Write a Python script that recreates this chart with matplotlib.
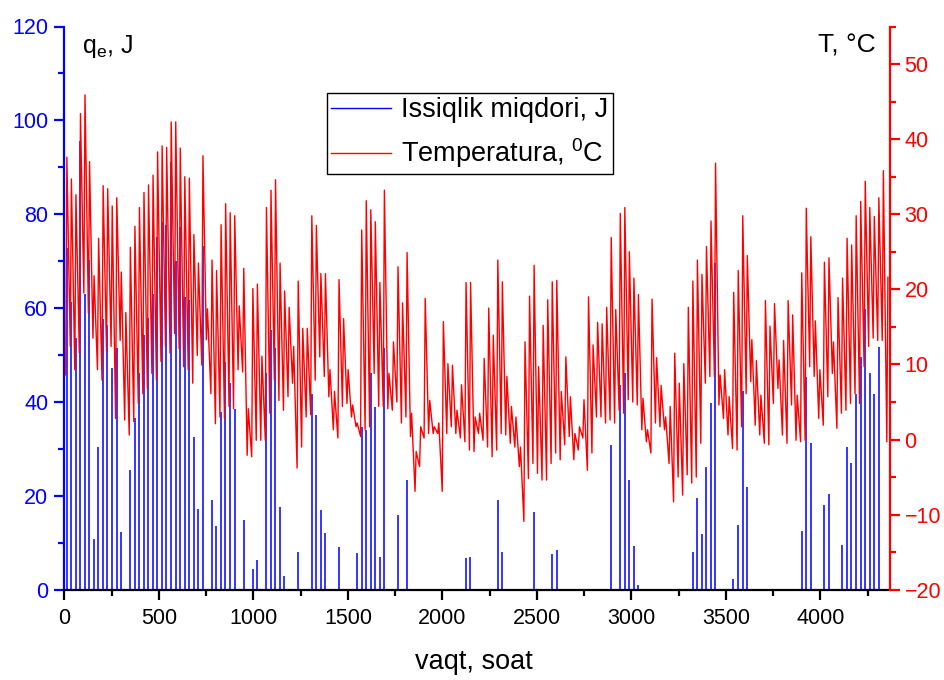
import matplotlib
matplotlib.use("Agg")
import matplotlib.pyplot as plt
from matplotlib.ticker import MultipleLocator
from matplotlib.lines import Line2D
from matplotlib import font_manager

plt.rcParams['font.family'] = ['Liberation Sans', 'DejaVu Sans']
plt.rcParams['mathtext.default'] = 'regular'

try:
    font_manager.findfont('Liberation Sans Narrow', fallback_to_default=False)
    TICKFAM = ['Liberation Sans Narrow', 'Liberation Sans']
    TICKSIZE = 17.5
except Exception:
    TICKFAM = ['Liberation Sans', 'DejaVu Sans']
    TICKSIZE = 15.5

# Daily maximum temperature (deg C), days 0..181
t_max = [37.6, 34.7, 32.6, 43.4, 45.9, 37.0, 21.8, 26.8, 33.8, 33.4,
         31.1, 32.2, 22.3, 16.9, 25.6, 28.4, 30.9, 32.9, 33.9, 35.2,
         38.3, 39.1, 38.9, 42.3, 42.3, 38.8, 35.0, 34.8, 27.3, 23.5,
         37.8, 17.4, 23.9, 22.5, 28.6, 31.4, 30.2, 29.8, 17.8, 22.8,
         4.1, 20.1, 20.7, 11.1, 30.9, 33.2, 34.6, 23.5, 19.8, 17.6,
         12.4, 21.1, 14.8, 14.8, 29.8, 28.5, 22.1, 22.1, 9.3, 6.4,
         21.3, 16.1, 9.3, 4.6, 2.2, 27.9, 31.8, 30.6, 29.0, 20.9,
         33.2, 8.8, 13.0, 23.0, 18.2, 24.9, 3.5, -1.6, 1.7, 18.8,
         5.2, 1.7, 2.2, 15.7, 10.1, 9.9, 3.9, 7.3, 20.9, 20.9,
         3.0, 3.5, 10.8, 17.5, 13.9, 23.9, 21.0, 8.4, 4.4, 3.0,
         -1.0, 13.0, 19.1, 23.2, 9.7, 15.2, 18.6, 21.0, 21.2, 6.4,
         11.0, 5.7, 0.8, 1.7, 5.3, 19.0, 12.6, 15.6, 15.4, 17.6,
         26.9, 17.3, 30.1, 30.9, 25.0, 21.5, 19.3, 5.5, 1.3, 18.7,
         10.9, 7.2, 3.0, 4.4, 11.5, 7.5, 10.1, 17.6, 21.1, 23.9,
         22.0, 25.7, 29.1, 36.8, 8.6, 9.3, 5.7, 19.6, 22.5, 29.8,
         24.5, 13.3, 10.5, 5.9, 18.5, 15.1, 18.1, 10.6, 13.2, 18.5,
         16.6, 5.9, 22.2, 30.8, 27.0, 15.8, 9.3, 23.6, 24.2, 13.0,
         18.9, 21.5, 26.8, 25.9, 29.8, 31.7, 34.4, 30.9, 29.7, 32.2,
         35.8, 21.6]

# Daily minimum temperature (deg C), days 0..181
t_min = [8.6, 12.4, 9.3, 11.5, 19.5, 16.8, 13.5, 9.3, 7.9, 11.7,
         12.4, 2.8, 13.2, 2.6, 0.6, 2.4, 4.8, 6.1, 6.8, 8.8,
         7.9, 10.4, 12.4, 11.5, 14.1, 12.1, 9.7, 9.3, 7.5, 11.2,
         9.9, 13.3, 6.1, 2.1, 3.0, 2.8, 4.4, 4.1, 9.3, 9.0,
         -2.1, -2.3, -0.1, -0.1, -0.1, 3.5, 7.9, 5.2, 3.9, 5.7,
         7.5, -3.8, -1.0, 3.0, 3.3, 7.9, 11.0, 8.4, 5.7, 1.3,
         0.2, 4.4, 4.8, 3.0, 1.7, 0.4, 1.3, 1.7, 8.8, 4.4,
         4.4, 4.1, 3.9, 5.0, 2.2, 3.0, 0.4, -6.9, -3.6, 0.2,
         0.8, 0.8, 0.8, -6.9, 0.8, 1.7, 0.8, 0.2, -0.3, -1.4,
         -1.6, 0.8, -0.1, -1.0, -2.3, -1.4, 0.8, 0.6, -0.5, -1.0,
         -3.6, -10.9, -5.2, -3.2, -4.5, -5.4, -5.4, -3.2, -1.8, -2.7,
         -0.7, 0.4, -2.7, -1.4, 0.2, -4.1, -1.8, 3.0, 3.0, 2.2,
         2.6, 2.2, 3.9, 3.5, 5.3, 5.0, 4.6, 1.3, -0.3, -1.8,
         2.2, 1.7, 1.3, -3.2, -8.3, -5.0, -7.4, -4.7, -5.8, -5.0,
         -0.5, 7.5, 8.4, 8.4, 4.6, 2.8, 0.6, -1.2, -1.4, 1.7,
         6.1, 7.7, 1.9, 0.6, -0.5, -0.7, 4.8, 6.8, 0.6, -0.5,
         4.6, -0.1, -0.3, -0.1, 9.7, 8.4, 2.8, 1.9, 5.7, 8.8,
         1.5, 3.5, 3.9, 4.8, 6.1, 4.8, 9.7, 12.4, 13.5, 13.2,
         13.2, -0.3]

# Daily heat quantity (J), days 0..181
heat = [72.7, 61.4, 53.6, 95.5, 63.1, 70.2, 10.7, 30.5, 57.7, 56.3,
        47.2, 51.4, 12.2, 0, 25.6, 36.5, 46.1, 54.3, 57.8, 63.1,
        75.2, 78.4, 77.7, 91.2, 70.0, 77.3, 62.4, 61.7, 32.6, 17.3,
        73.3, 0, 19.1, 13.6, 37.9, 48.6, 44.0, 38.6, 0, 14.9,
        0, 4.5, 6.3, 0, 46.1, 55.3, 51.4, 17.7, 2.9, 0,
        0, 8.1, 0, 0, 41.8, 37.2, 17.0, 12.0, 0, 0,
        9.2, 0, 0, 0, 7.9, 34.7, 34.0, 46.1, 39.0, 7.0,
        51.4, 0, 0, 15.9, 0, 23.4, 0, 0, 0, 0,
        0, 0, 0, 0, 0, 0, 0, 0, 6.7, 7.0,
        0, 0, 0, 0, 0, 19.1, 8.1, 0, 0, 0,
        0, 0, 0, 16.6, 0, 0, 0, 7.7, 8.5, 0,
        0, 0, 0, 0, 0, 0, 0, 0, 0, 0,
        30.8, 0, 43.6, 46.1, 23.4, 9.3, 1.0, 0, 0, 0,
        0, 0, 0, 0, 0, 0, 0, 0, 8.0, 19.5,
        11.9, 26.2, 39.7, 69.7, 0, 0, 0, 2.3, 13.8, 42.3,
        21.8, 0, 0, 0, 0, 0, 0, 0, 0, 0,
        0, 0, 12.6, 45.4, 31.3, 0, 0, 18.1, 20.3, 0,
        0, 9.5, 30.5, 26.9, 41.8, 49.6, 59.9, 46.1, 41.8, 51.8,
        0, 0]

x_ticks = [0, 500, 1000, 1500, 2000, 2500, 3000, 3500, 4000]
q_ticks = [0, 20, 40, 60, 80, 100, 120]
t_ticks = [-20, -10, 0, 10, 20, 30, 40, 50]

# hourly positions of daily extremes
hrs, temps = [], []
for d in range(len(t_max)):
    hrs += [24 * d + 7, 24 * d + 13]
    temps += [t_min[d], t_max[d]]
heat_x = [24 * d + 12 for d, q in enumerate(heat) if q > 0]
heat_v = [q for q in heat if q > 0]

W, H = 944, 680
fig = plt.figure(figsize=(W / 100, H / 100), dpi=100)
L, R, B, T = 64.4, 890.0, 589.7, 26.5
ax = fig.add_axes([L / W, 1 - B / H, (R - L) / W, (B - T) / H])
ax2 = ax.twinx()

BLUE = '#0000ff'
RED = '#ff0000'

ax.vlines(heat_x, 0, heat_v, color=BLUE, lw=1.1)
ax2.plot(hrs, temps, color=RED, lw=1.0)

ax.set_xlim(0, 4368)
ax.set_ylim(0, 120)
ax2.set_ylim(-20, 55)

ax.set_xticks(x_ticks)
ax.xaxis.set_minor_locator(MultipleLocator(250))
ax.set_yticks(q_ticks)
ax.yaxis.set_minor_locator(MultipleLocator(10))
ax2.set_yticks(t_ticks)
ax2.yaxis.set_minor_locator(MultipleLocator(5))

for s in ['top', 'right']:
    ax.spines[s].set_visible(False)
for s in ['top', 'left', 'bottom']:
    ax2.spines[s].set_visible(False)
ax.spines['bottom'].set_color('black')
ax.spines['bottom'].set_linewidth(1.6)
ax.spines['left'].set_color(BLUE)
ax.spines['left'].set_linewidth(1.6)
ax2.spines['right'].set_color(RED)
ax2.spines['right'].set_linewidth(1.6)

ax.tick_params(axis='x', which='major', direction='out', length=7.5, width=1.6,
               colors='black', labelsize=TICKSIZE, pad=6)
ax.tick_params(axis='x', which='minor', direction='out', length=4, width=1.6, colors='black')
ax.tick_params(axis='y', which='major', direction='out', length=7.5, width=1.6,
               colors=BLUE, labelsize=TICKSIZE, pad=4)
ax.tick_params(axis='y', which='minor', direction='out', length=4, width=1.6, colors=BLUE)
ax2.tick_params(axis='y', which='major', direction='out', length=7.5, width=1.6,
                colors=RED, labelsize=TICKSIZE, pad=3)
ax2.tick_params(axis='y', which='minor', direction='out', length=4, width=1.6, colors=RED)
for lab in ax.get_xticklabels() + ax.get_yticklabels() + ax2.get_yticklabels():
    lab.set_family(TICKFAM)

fig.text(82 / W, 1 - 46 / H, 'q$_{e}$, J', fontsize=18, ha='left', va='center')
fig.text(876 / W, 1 - 46 / H, 'T, °C', fontsize=19, ha='right', va='center')
fig.text(474 / W, 1 - 662 / H, 'vaqt, soat', fontsize=19.5, ha='center', va='center')

handles = [Line2D([], [], color=BLUE, lw=1.0), Line2D([], [], color=RED, lw=1.0)]
labels = ['Issiqlik miqdori, J', 'Temperatura, $^{0}$C']
leg = ax2.legend(handles, labels, loc='upper left', bbox_to_anchor=(327 / W, 1 - 93 / H),
                 bbox_transform=fig.transFigure, fontsize=19.5, frameon=True, fancybox=False,
                 edgecolor='black', framealpha=1, borderpad=0.15, borderaxespad=0,
                 handlelength=2.2, handletextpad=0.4, labelspacing=0.5)
leg.get_frame().set_linewidth(1.0)

fig.savefig('out.png', dpi=100)
